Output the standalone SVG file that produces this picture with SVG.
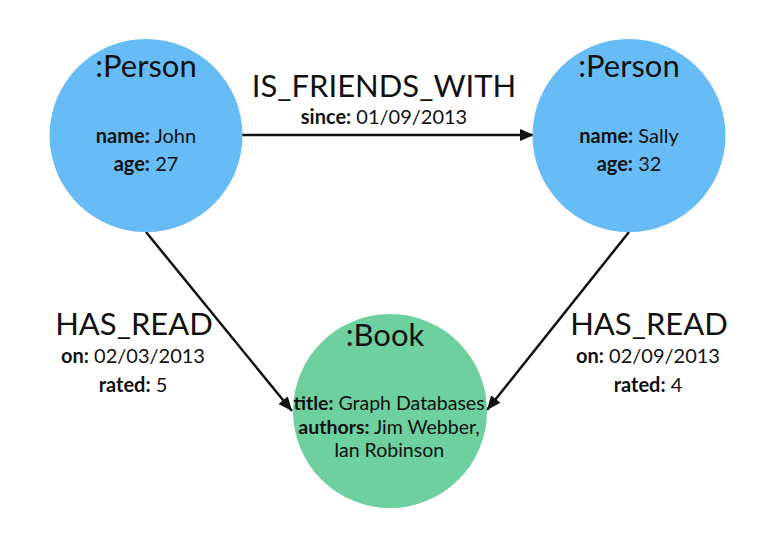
<svg xmlns="http://www.w3.org/2000/svg" width="767" height="543" viewBox="0 0 767 543">
<defs>
<style>
text{font-family:"Lato","Liberation Sans",sans-serif;fill:#111;text-anchor:middle}
.big{font-size:31px;font-weight:400}
.sm{font-size:20px}
.bk{font-size:19.5px}
.b{font-weight:700}
.person{fill:#67BCF5}
.book{fill:#6ECF9F}
.edge{stroke:#111;stroke-width:2.5;fill:none}
</style>
<marker id="arr" markerUnits="userSpaceOnUse" markerWidth="16" markerHeight="14" refX="14" refY="6" orient="auto">
<path d="M0,0 L14,6 L0,12 Z" fill="#111"/>
</marker>
</defs>
<rect width="767" height="543" fill="#fff"/>
<g id="connectors">
<g id="e-friends">
<line class="edge" x1="242" y1="135" x2="534" y2="135" marker-end="url(#arr)"/>
<text class="big" x="384" y="97">IS_FRIENDS_WITH</text>
<text class="sm" x="384" y="124"><tspan class="b">since:</tspan> 01/09/2013</text>
</g>
<g id="e-john-read">
<line class="edge" x1="146" y1="232" x2="292" y2="411" marker-end="url(#arr)"/>
<text class="big" x="134" y="335">HAS_READ</text>
<text class="sm" x="133" y="363"><tspan class="b">on:</tspan> 02/03/2013</text>
<text class="sm" x="133" y="392"><tspan class="b">rated:</tspan> 5</text>
</g>
<g id="e-sally-read">
<line class="edge" x1="629" y1="232" x2="487" y2="410" marker-end="url(#arr)"/>
<text class="big" x="649" y="335">HAS_READ</text>
<text class="sm" x="648" y="363"><tspan class="b">on:</tspan> 02/09/2013</text>
<text class="sm" x="648" y="392"><tspan class="b">rated:</tspan> 4</text>
</g>
</g>
<g id="john">
<circle class="person" cx="146" cy="135.5" r="96.5"/>
<text class="big" x="146" y="77">:Person</text>
<text class="sm" x="146" y="143"><tspan class="b">name:</tspan> John</text>
<text class="sm" x="146" y="171"><tspan class="b">age:</tspan> 27</text>
</g>
<g id="sally">
<circle class="person" cx="629" cy="135.5" r="96.5"/>
<text class="big" x="629" y="77">:Person</text>
<text class="sm" x="629" y="143"><tspan class="b">name:</tspan> Sally</text>
<text class="sm" x="629" y="171"><tspan class="b">age:</tspan> 32</text>
</g>
<g id="book">
<circle class="book" cx="390" cy="411" r="97"/>
<text class="big" x="385" y="346">:Book</text>
<text class="bk" x="389" y="410"><tspan class="b">title:</tspan> Graph Databases</text>
<text class="bk" x="389" y="433.5"><tspan class="b">authors:</tspan> Jim Webber,</text>
<text class="bk" x="389" y="457">Ian Robinson</text>
</g>
</svg>
